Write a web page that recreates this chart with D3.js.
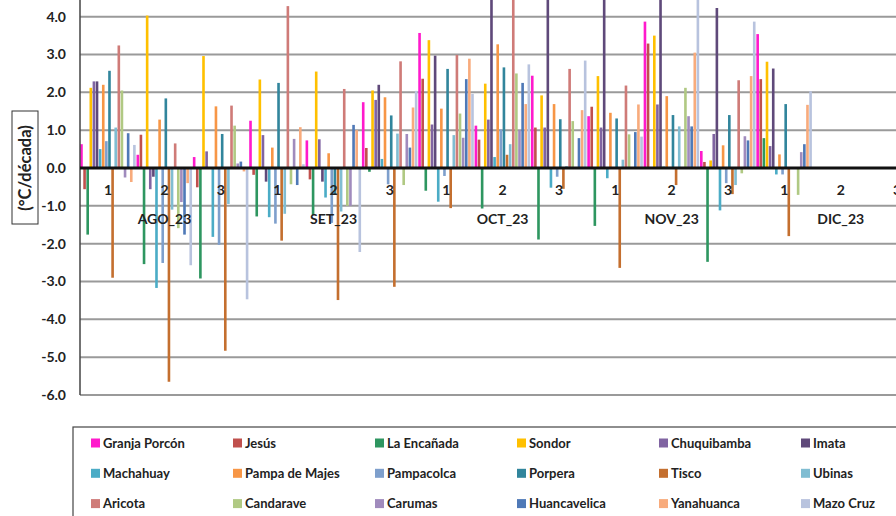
<!DOCTYPE html>
<html>
<head>
<meta charset="utf-8">
<script src="https://cdn.jsdelivr.net/npm/d3@7"></script>
<style>
  body { margin: 0; background: #fff; }
  text { font-family: Lato, "Open Sans", sans-serif; font-weight: bold; fill: #222; }
</style>
</head>
<body>
<div class="graph-container"></div>
<script>
// dekads and months
const dekads = ["1","2","3","1","2","3","1","2","3","1","2","3","1","2","3"];
const months = ["AGO_23","SET_23","OCT_23","NOV_23","DIC_23"];
const yTicks = [-6,-5,-4,-3,-2,-1,0,1,2,3,4];

const stations = ["Granja Porcón","Jesús","La Encañada","Sondor","Chuquibamba","Imata",
  "Machahuay","Pampa de Majes","Pampacolca","Porpera","Tisco","Ubinas",
  "Aricota","Candarave","Carumas","Huancavelica","Yanahuanca","Mazo Cruz"];

const colors = ["#ff1acc","#c0504d","#2e9660","#ffc000","#8064a2","#5f497a",
  "#4bacc6","#f79646","#7e9fcc","#31859c","#c46f2f","#80bdd2",
  "#cf7b78","#b0c983","#a08bbd","#4f79b7","#f8ab7c","#b8c3de"];

// values per station, AGO1..DIC3 (null = no data)
const granjaPorcon = [0.63,0.35,0.29,1.25,0.73,1.74,3.57,1.12,2.44,1.37,3.87,0.45,3.54,null,null];
const jesus        = [-0.56,0.88,-0.51,-0.18,-0.30,0.53,2.36,0.75,1.07,1.62,3.29,0.16,2.35,null,null];
const laEncanada   = [-1.76,-2.54,-2.92,-1.28,-1.24,-0.10,-0.60,-1.07,-1.89,-1.53,0.00,-2.48,0.79,null,null];
const sondor       = [2.12,4.03,2.96,2.34,2.55,2.05,3.38,2.23,1.92,2.43,3.50,0.20,2.81,null,null];
const chuquibamba  = [2.29,-0.56,0.44,0.87,0.76,1.80,1.15,1.28,1.07,1.07,1.68,0.90,0.58,null,null];
const imata        = [2.29,-0.23,0.00,-0.36,-0.36,2.20,2.97,4.60,4.60,4.60,4.60,4.23,2.63,null,null];
const machahuay    = [0.50,-3.17,-1.82,-1.30,-0.78,0.24,-0.89,0.29,-0.52,-0.27,0.04,-1.12,-0.17,null,null];
const pampaMajes   = [2.20,1.28,1.63,0.54,0.39,1.87,1.57,3.27,1.69,1.46,1.90,0.60,0.36,null,null];
const pampacolca   = [0.71,-2.51,-2.03,-1.47,-1.45,-0.43,-0.21,1.02,-0.23,0.00,0.03,-0.40,-0.17,null,null];
const porpera      = [2.57,1.84,0.90,2.25,-0.70,1.39,2.62,2.66,1.29,1.31,1.40,1.40,1.69,null,null];
const tisco        = [-2.90,-5.65,-4.83,-1.92,-3.49,-3.14,-1.06,0.35,-0.55,-2.64,-0.45,-0.69,-1.80,null,null];
const ubinas       = [1.07,-1.10,-0.95,-1.21,-1.15,0.91,0.87,0.63,0.05,0.22,1.10,-0.45,0.00,null,null];
const aricota      = [3.24,0.65,1.65,4.28,2.09,2.82,2.99,4.60,2.62,2.18,0.00,2.32,0.00,null,null];
const candarave    = [2.05,-1.59,1.12,-0.43,-1.00,-0.45,1.44,2.50,1.24,0.89,2.12,-0.14,-0.71,null,null];
const carumas      = [-0.25,-0.90,0.12,0.77,-1.00,0.90,0.80,1.00,0.00,0.02,1.37,0.84,0.42,null,null];
const huancavelica = [0.92,-1.76,0.17,-0.45,1.14,0.54,2.35,2.25,0.79,0.95,1.10,0.73,0.63,null,null];
const yanahuanca   = [-0.37,-0.40,-0.09,1.08,1.00,1.60,2.89,1.69,1.53,1.68,3.05,2.43,1.67,null,null];
const mazoCruz     = [0.61,-2.57,-3.47,0.10,-2.22,2.04,1.96,2.74,2.84,0.83,4.60,3.87,2.03,null,null];

const series = [granjaPorcon,jesus,laEncanada,sondor,chuquibamba,imata,machahuay,pampaMajes,
  pampacolca,porpera,tisco,ubinas,aricota,candarave,carumas,huancavelica,yanahuanca,mazoCruz];

const dims = { width: 896, height: 516, left: 80, catW: 56.35 };

const svg = d3.select(".graph-container").append("svg")
  .attr("width", dims.width).attr("height", dims.height);

const x0 = d3.scaleBand().domain(d3.range(dekads.length))
  .range([dims.left, dims.left + dims.catW * dekads.length]).padding(0);
const x1 = d3.scaleBand().domain(d3.range(stations.length))
  .range([0, x0.bandwidth()]).paddingInner(0).paddingOuter(0.05);
const y = d3.scaleLinear().domain([-6, 4]).range([395, 16.7]);

// gridlines
svg.append("g").selectAll("line").data(yTicks.filter(d => d !== 0)).enter().append("line")
  .attr("x1", dims.left).attr("x2", dims.width)
  .attr("y1", d => y(d)).attr("y2", d => y(d))
  .attr("stroke", "#9a9a9a").attr("stroke-width", 2);

// y tick labels (plain hyphen like the original)
svg.append("g").selectAll("text").data(yTicks).enter().append("text")
  .attr("x", 66).attr("y", d => y(d)).attr("dy", "0.35em")
  .attr("text-anchor", "end").attr("font-size", 14)
  .text(d => d.toFixed(1));

// bars
const flat = [];
series.forEach((vals, s) => vals.forEach((v, c) => { if (v !== null) flat.push({ s, c, v }); }));
svg.append("g").selectAll("rect").data(flat).enter().append("rect")
  .attr("x", d => x0(d.c) + x1(d.s))
  .attr("width", x1.bandwidth() - 0.5)
  .attr("y", d => y(Math.max(0, d.v)))
  .attr("height", d => Math.abs(y(d.v) - y(0)))
  .attr("fill", d => colors[d.s]);

// y axis line and zero line
svg.append("line").attr("x1", dims.left).attr("x2", dims.left).attr("y1", 0).attr("y2", y(-6))
  .attr("stroke", "#444").attr("stroke-width", 1.5);
svg.append("line").attr("x1", dims.left).attr("x2", dims.width).attr("y1", y(0)).attr("y2", y(0))
  .attr("stroke", "#111").attr("stroke-width", 3);

// dekad labels
svg.append("g").selectAll("text").data(dekads).enter().append("text")
  .attr("x", (d, i) => x0(i) + x0.bandwidth() / 2).attr("y", 195)
  .attr("text-anchor", "middle").attr("font-size", 14).text(d => d);

// month labels
svg.append("g").selectAll("text").data(months).enter().append("text")
  .attr("x", (d, i) => x0(i * 3 + 1) + x0.bandwidth() / 2).attr("y", 224)
  .attr("text-anchor", "middle").attr("font-size", 14).text(d => d);

// y title
svg.append("rect").attr("x", 12).attr("y", 111).attr("width", 26).attr("height", 113)
  .attr("fill", "none").attr("stroke", "#333").attr("stroke-width", 1);
svg.append("text").attr("transform", "translate(31,168) rotate(-90)")
  .attr("text-anchor", "middle").attr("font-size", 16.5).text("(°C/década)");

// legend
svg.append("rect").attr("x", 73).attr("y", 427).attr("width", 900).attr("height", 120)
  .attr("fill", "none").attr("stroke", "#444").attr("stroke-width", 1.2);
const legend = svg.append("g").selectAll("g").data(stations).enter().append("g")
  .attr("transform", (d, i) => `translate(${91 + (i % 6) * 142},${443 + Math.floor(i / 6) * 30.3})`);
legend.append("rect").attr("x", 0).attr("y", -4.5).attr("width", 9).attr("height", 9)
  .attr("fill", (d, i) => colors[i]);
legend.append("text").attr("x", 12).attr("dy", "0.35em").attr("font-size", 13).text(d => d);
</script>
</body>
</html>
